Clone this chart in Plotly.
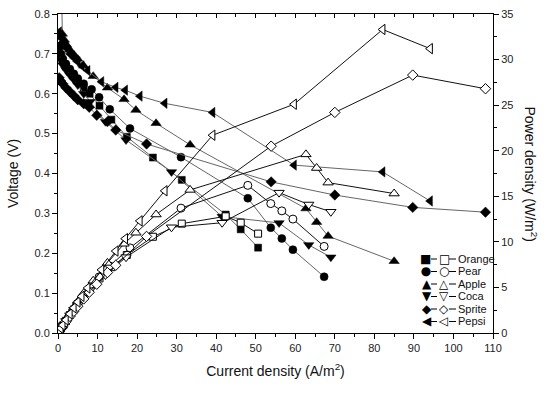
import plotly.graph_objects as go

# ---------------- data ----------------
names = ["Orange", "Pear", "Apple", "Coca", "Sprite", "Pepsi"]

orange_i = [0.3, 0.7, 1.2, 2, 3, 4, 5, 6.5, 8, 10.5, 13.5, 17.4, 24, 31.3, 42.4, 46.2, 50.6]
orange_v = [0.71, 0.695, 0.682, 0.668, 0.655, 0.643, 0.632, 0.615, 0.60, 0.57, 0.535, 0.492, 0.44, 0.384, 0.297, 0.26, 0.214]
orange_p = [0.21, 0.49, 0.82, 1.34, 1.97, 2.57, 3.16, 4.0, 4.8, 5.99, 7.22, 8.56, 10.56, 12.0, 12.8, 12.1, 10.9]

pear_i = [0.3, 0.7, 1.2, 2, 3, 4, 5, 6.5, 8.5, 10.4, 13.1, 18.2, 31.1, 48, 53.8, 56.6, 59.4, 67.3]
pear_v = [0.72, 0.70, 0.688, 0.675, 0.662, 0.65, 0.638, 0.625, 0.611, 0.591, 0.561, 0.513, 0.441, 0.338, 0.264, 0.237, 0.209, 0.141]
pear_p = [0.22, 0.49, 0.83, 1.35, 1.99, 2.6, 3.19, 4.06, 5.19, 6.15, 7.35, 9.34, 13.7, 16.2, 14.2, 13.4, 12.5, 9.5]

apple_i = [0.9, 1.1, 1.6, 2.2, 3, 4, 5, 6.5, 8.9, 12.5, 16.7, 19.7, 24.8, 33.4, 62.7, 65.4, 68.3, 85]
apple_v = [0.86, 0.75, 0.735, 0.722, 0.71, 0.698, 0.687, 0.67, 0.644, 0.615, 0.586, 0.559, 0.526, 0.472, 0.312, 0.278, 0.243, 0.18]
apple_p = [0.77, 0.83, 1.18, 1.59, 2.13, 2.79, 3.44, 4.36, 5.73, 7.69, 9.79, 11.0, 13.0, 15.7, 19.6, 18.1, 16.5, 15.3]

coca_i = [0.3, 0.7, 1.2, 2, 3, 4, 5, 6.5, 8.1, 12, 17.2, 28.7, 41.5, 55.9, 63.4, 69]
coca_v = [0.70, 0.685, 0.672, 0.66, 0.647, 0.635, 0.622, 0.60, 0.58, 0.53, 0.484, 0.404, 0.292, 0.276, 0.221, 0.19]
coca_p = [0.21, 0.48, 0.81, 1.32, 1.94, 2.54, 3.11, 3.9, 4.7, 6.36, 8.32, 11.6, 12.1, 15.4, 14.1, 13.3]

sprite_i = [0.3, 0.7, 1.2, 2, 3, 4, 5, 6.5, 7.9, 9.8, 12.5, 14.6, 22.4, 53.9, 70, 89.7, 108.1]
sprite_v = [0.64, 0.632, 0.625, 0.615, 0.605, 0.595, 0.585, 0.575, 0.566, 0.546, 0.53, 0.509, 0.474, 0.379, 0.346, 0.315, 0.303]
sprite_p = [0.19, 0.44, 0.75, 1.23, 1.82, 2.38, 2.93, 3.74, 4.47, 5.35, 6.63, 7.43, 10.6, 20.5, 24.2, 28.3, 26.8]

pepsi_i = [0.3, 0.7, 1.2, 2, 3, 4, 5, 6, 7.5, 11, 14.6, 17, 20.7, 27, 39.1, 59.7, 82.1, 94.1]
pepsi_v = [0.755, 0.74, 0.728, 0.715, 0.70, 0.69, 0.68, 0.67, 0.658, 0.63, 0.616, 0.609, 0.594, 0.576, 0.553, 0.421, 0.404, 0.331]
pepsi_p = [0.23, 0.52, 0.87, 1.43, 2.1, 2.76, 3.4, 4.02, 4.94, 6.93, 8.99, 10.35, 12.3, 15.6, 21.7, 25.1, 33.3, 31.2]

x_ticks = [0, 10, 20, 30, 40, 50, 60, 70, 80, 90, 100, 110]
v_ticks = [0.0, 0.1, 0.2, 0.3, 0.4, 0.5, 0.6, 0.7, 0.8]
p_ticks = [0, 5, 10, 15, 20, 25, 30, 35]

# ---------------- styling ----------------
currents = [orange_i, pear_i, apple_i, coca_i, sprite_i, pepsi_i]
voltages = [orange_v, pear_v, apple_v, coca_v, sprite_v, pepsi_v]
powers = [orange_p, pear_p, apple_p, coca_p, sprite_p, pepsi_p]
symbols = ["square", "circle", "triangle-up", "triangle-down", "diamond", "triangle-left"]
sizes = [7, 8, 9, 9, 8, 9]
glyph_filled = ["■", "●", "▲", "▼", "◆", "◀"]
glyph_open = ["□", "○", "△", "▽", "◇", "◁"]

FONT = "Liberation Sans, Arial, sans-serif"
W, H = 550, 394
L, R, T, B = 58, 57, 14, 61

fig = go.Figure()

for i in range(6):
    fig.add_trace(go.Scatter(
        x=currents[i], y=powers[i], xaxis="x", yaxis="y2", mode="lines+markers",
        line=dict(color="#111", width=1),
        marker=dict(symbol=symbols[i], size=sizes[i], color="white",
                    line=dict(color="black", width=1)),
        showlegend=False, name=names[i] + " power"))

for i in range(6):
    fig.add_trace(go.Scatter(
        x=currents[i], y=voltages[i], xaxis="x", yaxis="y", mode="lines+markers",
        line=dict(color="#666", width=1),
        marker=dict(symbol=symbols[i], size=sizes[i], color="black",
                    line=dict(color="black", width=0.5)),
        showlegend=False, name=names[i] + " voltage"))

# empty trace so the top mirror axis exists
fig.add_trace(go.Scatter(x=[], y=[], xaxis="x2", yaxis="y", showlegend=False,
                         hoverinfo="skip"))

axis_common = dict(showline=True, linecolor="black", linewidth=1, showgrid=False,
                   zeroline=False, tickcolor="black", tickwidth=1, automargin=False,
                   tickfont=dict(family=FONT, size=11, color="#222"))

fig.update_layout(
    width=W, height=H, margin=dict(l=L, r=R, t=T, b=B, autoexpand=False),
    paper_bgcolor="white", plot_bgcolor="white",
    font=dict(family=FONT, color="#111"),
    xaxis=dict(range=[0, 110], tickvals=x_ticks, ticks="outside", ticklen=5,
               minor=dict(dtick=5, ticks="outside", ticklen=3, tickcolor="black"),
               title=dict(text="Current density (A/m<sup>2</sup>)",
                          font=dict(family=FONT, size=14), standoff=12),
               **axis_common),
    xaxis2=dict(range=[0, 110], overlaying="x", side="top", tickvals=x_ticks,
                ticks="inside", ticklen=4, showticklabels=False,
                minor=dict(dtick=5, ticks="inside", ticklen=3, tickcolor="black"),
                **axis_common),
    yaxis=dict(range=[0, 0.8], tickvals=v_ticks, tickformat=".1f", ticks="outside",
               ticklen=5,
               minor=dict(dtick=0.05, ticks="outside", ticklen=3, tickcolor="black"),
               title=dict(text="Voltage (V)", font=dict(family=FONT, size=14),
                          standoff=12),
               **axis_common),
    yaxis2=dict(range=[0, 35], tickvals=p_ticks, overlaying="y", side="right",
                anchor="x", ticks="outside", ticklen=5,
                minor=dict(dtick=2.5, ticks="outside", ticklen=3, tickcolor="black"),
                **axis_common),
)

def px_x(px):
    return (px - L) / (W - L - R)

def px_y(py):
    return (H - B - py) / (H - T - B)

ann = []
shapes = []
# right axis title, reading top to bottom
ann.append(dict(text="Power density (W/m<sup>2</sup>)", textangle=90, x=px_x(531),
                y=0.5, xref="paper", yref="paper", showarrow=False,
                xanchor="center", yanchor="middle",
                font=dict(family=FONT, size=14, color="#111")))

# legend built from text: multi-line texts (row pitch = 1.3 * 9.6px)
row_y = [259, 271.5, 284, 296.5, 309, 321.5]
for i in range(6):
    yy = px_y(row_y[i])
    for a, b in ((431, 437), (449, 456)):
        shapes.append(dict(type="line", xref="paper", yref="paper", x0=px_x(a),
                           x1=px_x(b), y0=yy, y1=yy, line=dict(color="black", width=1)))

mid_y = px_y((row_y[0] + row_y[-1]) / 2)
col_glyphs = "<br>".join('<span style="font-size:12px">%s&nbsp;&nbsp;%s</span>'
                         % (f, o) for f, o in zip(glyph_filled, glyph_open))
col_names = "<br>".join('<span style="font-size:11px">%s</span>' % n for n in names)

ann.append(dict(text=col_glyphs, x=px_x(435), y=mid_y, xref="paper", yref="paper",
                showarrow=False, xanchor="center", yanchor="middle", align="center",
                borderpad=0, font=dict(family="DejaVu Sans", size=9.6, color="black")))
ann.append(dict(text=col_names, x=px_x(457), y=mid_y, xref="paper", yref="paper",
                showarrow=False, xanchor="left", yanchor="middle", align="left",
                borderpad=0, font=dict(family=FONT, size=9.6, color="#111")))

fig.update_layout(annotations=ann, shapes=shapes)

fig.write_html("out.html", config={"displayModeBar": False},
               post_script="document.body.style.margin='0';"
                           "document.body.style.overflow='hidden';")
